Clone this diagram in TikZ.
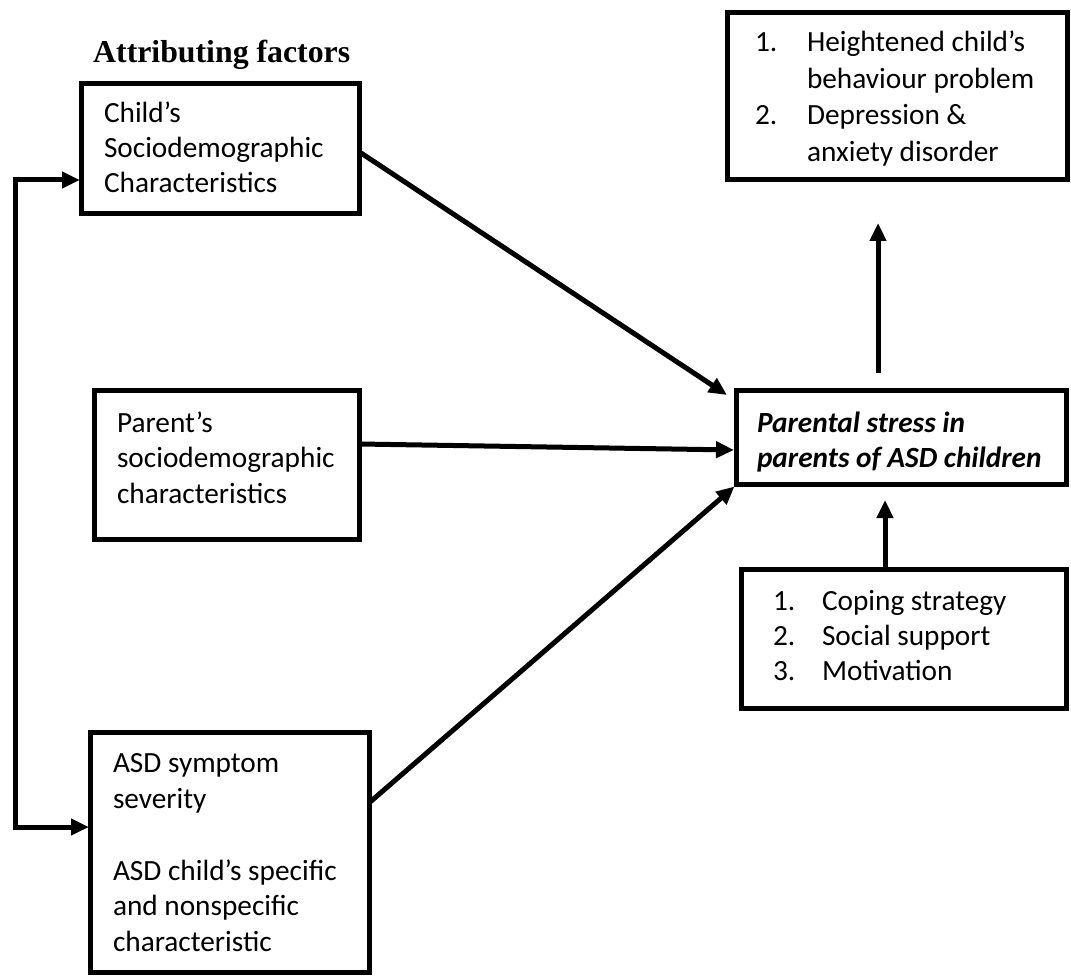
\documentclass[tikz,border=0pt]{standalone}
\usepackage{fontspec}
\setmainfont{Carlito}
\newfontfamily\titlefont{Liberation Serif}
\usetikzlibrary{arrows.meta,calc}
\begin{document}
\begin{tikzpicture}[x=1pt,y=-1pt,
  box/.style={draw=black, line width=5pt, inner sep=0pt, outer sep=0pt, anchor=north west, rectangle},
  txt/.style={anchor=base west, inner sep=0pt, outer sep=0pt, font=\fontsize{29.3}{36}\selectfont},
  ptxt/.style={txt, font=\fontsize{29.3}{36}\selectfont\bfseries\itshape},
  arr/.style={line width=5pt, -{Triangle[length=18pt,width=16pt]}},
  barr/.style={line width=5pt, {Triangle[length=18pt,width=16pt]}-{Triangle[length=18pt,width=16pt]}},
]
\useasboundingbox (0,0) rectangle (1071,976);

% title
\node[anchor=base west, inner sep=0pt, font=\titlefont\bfseries\fontsize{31.8}{36}\selectfont] (title) at (93,63) {Attributing factors};

% boxes
\node[box, minimum width=278pt, minimum height=130pt] (child) at (81.5,83.5) {};
\node[box, minimum width=265pt, minimum height=149pt] (parent) at (94.5,390.5) {};
\node[box, minimum width=279pt, minimum height=240pt] (asd) at (90.5,732.5) {};
\node[box, minimum width=330pt, minimum height=94pt] (parental) at (736.5,390.5) {};
\node[box, minimum width=340pt, minimum height=167pt] (topbox) at (727.5,12.5) {};
\node[box, minimum width=325pt, minimum height=139pt] (coping) at (741.5,569.5) {};

% texts
\node[txt] (c1) at (104,123) {Child’s};
\node[txt] (c2) at (104,158) {Sociodemographic};
\node[txt] (c3) at (104,193) {Characteristics};

\node[txt] (p1) at (117,432) {Parent’s};
\node[txt] (p2) at (117,467.5) {sociodemographic};
\node[txt] (p3) at (117,503) {characteristics};

\node[txt] (a1) at (113,772.5) {ASD symptom};
\node[txt] (a2) at (113,808) {severity};
\node[txt] (a3) at (113,880) {ASD child’s specific};
\node[txt] (a4) at (113,915.5) {and nonspecific};
\node[txt] (a5) at (113,951) {characteristic};

\node[ptxt] (s1) at (757,432) {Parental stress in};
\node[ptxt] (s2) at (757,467) {parents of ASD children};

\node[txt] (o1n) at (755,52) {1.};
\node[txt] (o1) at (807,52) {Heightened child’s};
\node[txt] (o2) at (807,88.5) {behaviour problem};
\node[txt] (o3n) at (755,125) {2.};
\node[txt] (o3) at (807,125) {Depression \&};
\node[txt] (o4) at (807,161.5) {anxiety disorder};

\node[txt] (m1n) at (773,610) {1.};
\node[txt] (m1) at (822,610) {Coping strategy};
\node[txt] (m2n) at (773,645) {2.};
\node[txt] (m2) at (822,645) {Social support};
\node[txt] (m3n) at (773,680) {3.};
\node[txt] (m3) at (822,680) {Motivation};

% connectors
\draw[arr] ($(child.north east)+(0,68.5)$) -- ($(parental.north west)+(-9.5,4.5)$);
\draw[arr] ($(parent.north east)+(0,53.5)$) -- ($(parental.north west)+(-2.5,59.5)$);
\draw[arr] ($(asd.north east)+(0,70)$) -- ($(parental.south west)+(-2,2)$);
\draw[arr] ($(parental.north)+(-23.5,-17.5)$) -- ($(topbox.south)+(-19.5,43.5)$);
\draw[arr] ($(coping.north)+(-19,0)$) -- ($(parental.south)+(-16.5,15.5)$);

\coordinate (b1) at (15,180);
\coordinate (b2) at (15,827);
\draw[barr, shorten <=1.5pt, shorten >=1.5pt] (child.west |- b1) -- (b1) -- (b2) -- (asd.west |- b2);
\end{tikzpicture}
\end{document}
